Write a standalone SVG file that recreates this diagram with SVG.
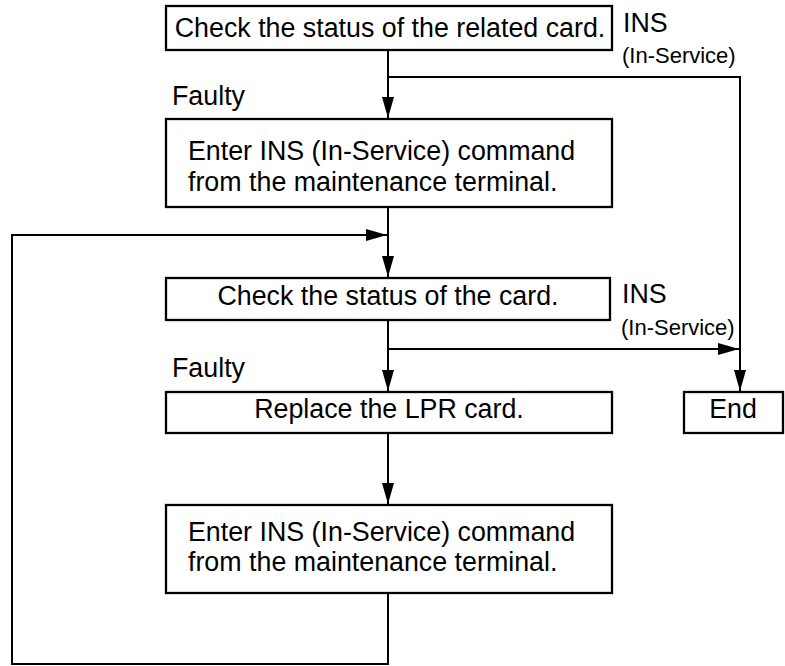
<svg xmlns="http://www.w3.org/2000/svg" width="785" height="666" viewBox="0 0 785 666">
<style>
.box{fill:#fff;stroke:#000;stroke-width:2.3}
.t{font-family:"Liberation Sans",Arial,sans-serif;font-size:26.8px;fill:#000}
.s{font-family:"Liberation Sans",Arial,sans-serif;font-size:22px;fill:#000}
.c{text-anchor:middle}
.ln{fill:none;stroke:#000;stroke-width:2}
</style>
<defs>
<marker id="ah" markerUnits="userSpaceOnUse" markerWidth="24" markerHeight="14" refX="21" refY="6" orient="auto">
<path d="M0,0 L21,6 L0,12 Z" fill="#000"/>
</marker>
</defs>
<rect width="785" height="666" fill="#fff"/>
<g id="connectors">
<path class="ln" d="M388,50 V118" marker-end="url(#ah)"/>
<path class="ln" d="M388,77 H740 V391" marker-end="url(#ah)"/>
<path class="ln" d="M388,207 V277" marker-end="url(#ah)"/>
<path class="ln" d="M388,593 V664 H12 V235 H387" marker-end="url(#ah)"/>
<path class="ln" d="M388,320 V391" marker-end="url(#ah)"/>
<path class="ln" d="M388,349 H739" marker-end="url(#ah)"/>
<path class="ln" d="M388,433 V504" marker-end="url(#ah)"/>
</g>
<g id="labels">
<text class="t" x="172" y="105">Faulty</text>
<text class="t" x="172" y="377">Faulty</text>
<text class="t" x="623" y="32">INS</text>
<text class="s" x="622" y="63">(In-Service)</text>
<text class="t" x="622" y="303">INS</text>
<text class="s" x="621" y="335">(In-Service)</text>
</g>
<g id="n1">
<rect class="box" x="166" y="6" width="446" height="44"/>
<text class="t c" x="390" y="37">Check the status of the related card.</text>
</g>
<g id="n2">
<rect class="box" x="166" y="119" width="446" height="88"/>
<text class="t" x="188" y="160">Enter INS (In-Service) command</text>
<text class="t" x="188" y="191">from the maintenance terminal.</text>
</g>
<g id="n3">
<rect class="box" x="166" y="278" width="444" height="42"/>
<text class="t c" x="388" y="305">Check the status of the card.</text>
</g>
<g id="n4">
<rect class="box" x="166" y="392" width="446" height="41"/>
<text class="t c" x="389" y="418">Replace the LPR card.</text>
</g>
<g id="n5">
<rect class="box" x="166" y="505" width="446" height="88"/>
<text class="t" x="188" y="541">Enter INS (In-Service) command</text>
<text class="t" x="188" y="571">from the maintenance terminal.</text>
</g>
<g id="end">
<rect class="box" x="684" y="392" width="99" height="41"/>
<text class="t c" x="733" y="418">End</text>
</g>
</svg>
